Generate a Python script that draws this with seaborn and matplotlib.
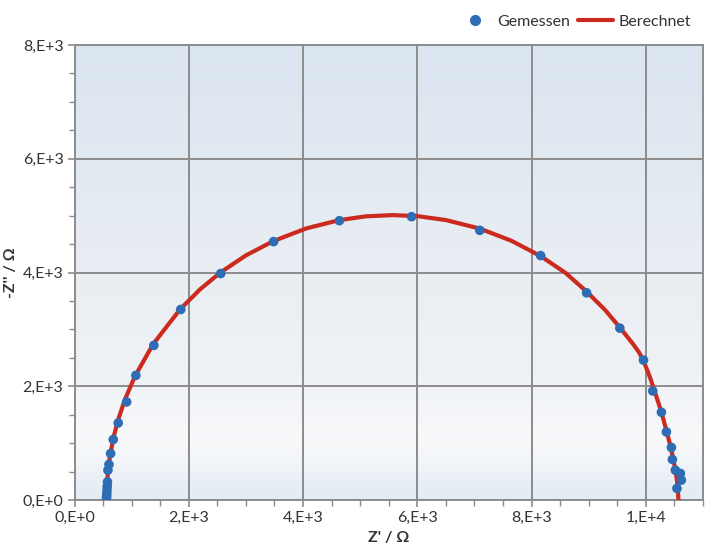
import numpy as np
import pandas as pd
import matplotlib
matplotlib.use("Agg")
import matplotlib.pyplot as plt
from matplotlib.colors import LinearSegmentedColormap
from matplotlib.ticker import MultipleLocator, FuncFormatter
from matplotlib.lines import Line2D
import seaborn as sns

# Gemessen (measured points), Z' and -Z'' in Ohm
z_real_mess = [560, 562, 565, 568, 572, 577, 585, 603, 632, 678, 765, 912,
               1074, 1389, 1860, 2559, 3485, 4637, 5900, 7095, 8160, 8964,
               9546, 9960, 10122, 10274, 10361, 10449, 10466, 10518, 10606,
               10623, 10546]
z_imag_mess = [20, 60, 110, 170, 240, 320, 526, 626, 819, 1065, 1356, 1725,
               2193, 2719, 3351, 3982, 4544, 4912, 4982, 4742, 4298, 3644,
               3023, 2461, 1918, 1544, 1198, 925, 714, 526, 468, 351, 205]

# Berechnet (fitted curve)
z_real_calc = [560, 580, 620, 680, 760, 880, 1060, 1380, 1850, 2200, 2560,
               3000, 3480, 4060, 4640, 5100, 5570, 6000, 6500, 7100, 7650,
               8160, 8600, 8960, 9290, 9550, 9780, 9880, 9960, 10070, 10160,
               10270, 10360, 10430, 10480, 10520, 10550, 10565, 10572]
z_imag_calc = [0, 447, 773, 1090, 1401, 1762, 2182, 2747, 3356, 3707, 4005,
               4301, 4553, 4777, 4923, 4988, 5010, 4992, 4923, 4771, 4558,
               4289, 3990, 3670, 3340, 3030, 2740, 2600, 2450, 2170, 1900,
               1560, 1230, 960, 730, 520, 320, 140, 0]

df_mess = pd.DataFrame({"x": z_real_mess, "y": z_imag_mess})
df_calc = pd.DataFrame({"x": z_real_calc, "y": z_imag_calc})

sns.set_theme(style="white")
plt.rcParams["font.family"] = ["Lato", "DejaVu Sans"]

blau = "#2e6db4"
rot = "#cc2a1f"
grau = "#8c8c8c"

fig = plt.figure(figsize=(7.05, 5.6), dpi=100)
ax = fig.add_axes([0.1057, 0.107, 0.8913, 0.8126])

# Hintergrund mit Farbverlauf
verlauf = LinearSegmentedColormap.from_list(
    "bg", [(0.0, "#e3ebf4"), (0.12, "#f8f9fb"), (0.28, "#eff2f5"), (1.0, "#dbe5f0")])
grad = np.linspace(0, 1, 256).reshape(-1, 1)
ax.imshow(grad, aspect="auto", cmap=verlauf, origin="lower",
          extent=[0, 1, 0, 1], transform=ax.transAxes, zorder=0)

sns.lineplot(data=df_calc, x="x", y="y", sort=False, estimator=None,
             color=rot, linewidth=3, ax=ax, zorder=3)
sns.scatterplot(data=df_mess, x="x", y="y", color=blau, s=48,
                edgecolor="none", ax=ax, zorder=4)

ax.set_xlim(0, 11000)
ax.set_ylim(0, 8000)

def exp_format(v, pos):
    if v == 0:
        return "0,E+0"
    e = int(np.floor(np.log10(abs(v)) + 1e-9))
    m = int(round(v / 10 ** e))
    return f"{m},E+{e}"

ax.xaxis.set_major_locator(MultipleLocator(2000))
ax.xaxis.set_minor_locator(MultipleLocator(500))
ax.yaxis.set_major_locator(MultipleLocator(2000))
ax.yaxis.set_minor_locator(MultipleLocator(500))
ax.xaxis.set_major_formatter(FuncFormatter(exp_format))
ax.yaxis.set_major_formatter(FuncFormatter(exp_format))

ax.grid(True, which="major", color=grau, linewidth=1.4, zorder=1)
ax.set_axisbelow(True)
for s in ax.spines.values():
    s.set_color(grau)
    s.set_linewidth(1.4)

ax.tick_params(which="major", direction="out", length=5, width=1.2,
               color=grau, labelsize=11.5, labelcolor="#333333",
               bottom=True, left=True, pad=3)
ax.tick_params(which="minor", direction="out", length=4, width=1.0,
               color=grau, bottom=True, left=True)

ax.set_xlabel("Z' / Ω", fontsize=11.5, fontweight="bold", color="#333333",
              labelpad=4)
ax.set_ylabel("")
fig.text(0.016, 0.514, "-Z'' / Ω", rotation=90, ha="center", va="center",
         fontsize=11.5, fontweight="bold", color="#333333")

handles = [
    Line2D([], [], marker="o", linestyle="none", color=blau, markersize=7),
    Line2D([], [], color=rot, linewidth=3),
]
fig.legend(handles, ["Gemessen", "Berechnet"], loc="upper right",
           bbox_to_anchor=(1.0, 1.0), ncol=2, frameon=False, fontsize=11.5,
           handlelength=2.2, handletextpad=0.3, columnspacing=0.5,
           labelcolor="#333333")

fig.savefig("out.png", dpi=100)
